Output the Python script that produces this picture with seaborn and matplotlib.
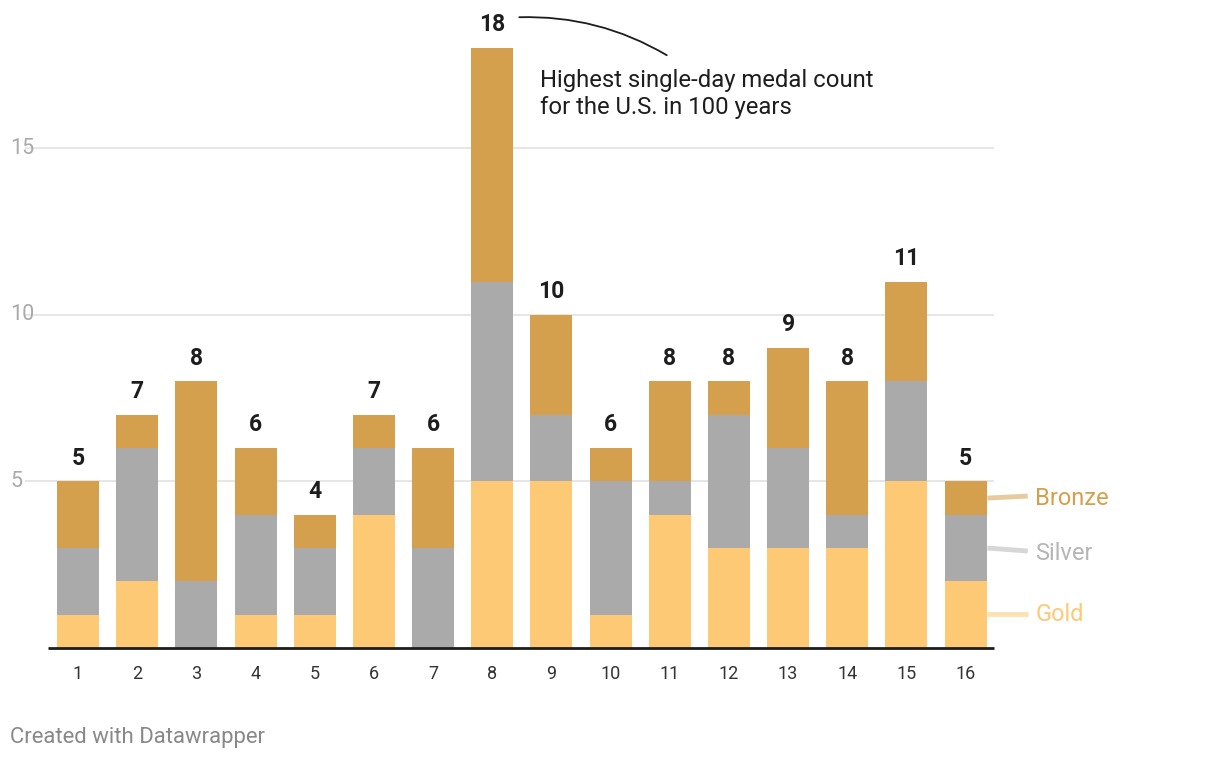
import matplotlib
matplotlib.use('Agg')
import pandas as pd
import matplotlib.pyplot as plt
import matplotlib.transforms as mtransforms
import seaborn as sns

days = [str(d) for d in range(1, 17)]
gold = [1, 2, 0, 1, 1, 4, 0, 5, 5, 1, 4, 3, 3, 3, 5, 2]
silver = [2, 4, 2, 3, 2, 2, 3, 6, 2, 4, 1, 4, 3, 1, 3, 2]
bronze = [2, 1, 6, 2, 1, 1, 3, 7, 3, 1, 3, 1, 3, 4, 3, 1]

GOLD = '#fdc975'
SILVER = '#aaaaaa'
BRONZE = '#d4a04e'

df = pd.DataFrame({'day': days, 'gold': gold, 'silver': silver, 'bronze': bronze})
df['gs'] = df['gold'] + df['silver']
df['total'] = df['gs'] + df['bronze']

sns.set_style('white')
plt.rcParams['font.family'] = ['Roboto', 'DejaVu Sans']

fig = plt.figure(figsize=(12.2, 7.62), dpi=100)
# axes spans from x=25px to 994px, y from 648px (value 0) upward
ax = fig.add_axes([25 / 1220, 114 / 762, (994 - 25) / 1220, 633 / 762])

# stacked bars: draw cumulative totals back to front
for col, c in [('total', BRONZE), ('gs', SILVER), ('gold', GOLD)]:
    sns.barplot(data=df, x='day', y=col, color=c, width=0.71, saturation=1,
                linewidth=0, edgecolor='none', ax=ax, zorder=2)

ax.set_xlim(-0.896, 15.48)
ax.set_ylim(0, 19)
sns.despine(ax=ax, left=True, bottom=True, top=True, right=True)
ax.set_xlabel('')
ax.set_ylabel('')

# gridlines
for v in [5, 10, 15]:
    ax.axhline(v, color='#e2e2e2', lw=1.2, zorder=0)
ax.hlines(0, -0.5, 15.48, color='#1d1d1d', lw=2, zorder=3, clip_on=False)

ax.set_yticks([])
trans = mtransforms.blended_transform_factory(fig.transFigure, ax.transData)
for v in [5, 10, 15]:
    ax.text(10 / 1220, v, str(v), transform=trans, ha='left', va='center',
            fontsize=15.5, color='#aaaaaa')

ax.tick_params(axis='x', length=0, pad=12, labelsize=13, labelcolor='#333333')

# totals on top
for i, t in enumerate(df['total']):
    ax.text(i, t + 0.7, str(t), ha='center', va='center', fontsize=16.5,
            fontweight='bold', color='#1d1d1d')

# annotation
ax.annotate('', xy=(9.99, 17.75), xytext=(7.41, 18.93),
            arrowprops=dict(arrowstyle='-', color='#1d1d1d', lw=1.3,
                            connectionstyle='arc3,rad=-0.15'),
            annotation_clip=False)
ax.text(7.81, 17.38, 'Highest single-day medal count\nfor the U.S. in 100 years',
        ha='left', va='top', fontsize=17.2, color='#1d1d1d', linespacing=1.25)

# direct labels on the right
labels = [('Bronze', BRONZE, 4.5, 4.56, 4.5), ('Silver', '#b5b5b5', 3.0, 2.91, 2.85),
          ('Gold', GOLD, 1.02, 1.02, 1.0)]
for name, col, y0, y1, ty in labels:
    ax.plot([15.37, 16.05], [y0, y1], color=col, lw=3.5, alpha=0.55,
            solid_capstyle='butt', clip_on=False)
    ax.text(16.18, ty, name, ha='left', va='center', fontsize=17, color=col)

fig.text(10 / 1220, 1 - 738 / 762, 'Created with Datawrapper', ha='left', va='center',
         fontsize=15.9, color='#888888')

plt.savefig('out.png', dpi=100)
